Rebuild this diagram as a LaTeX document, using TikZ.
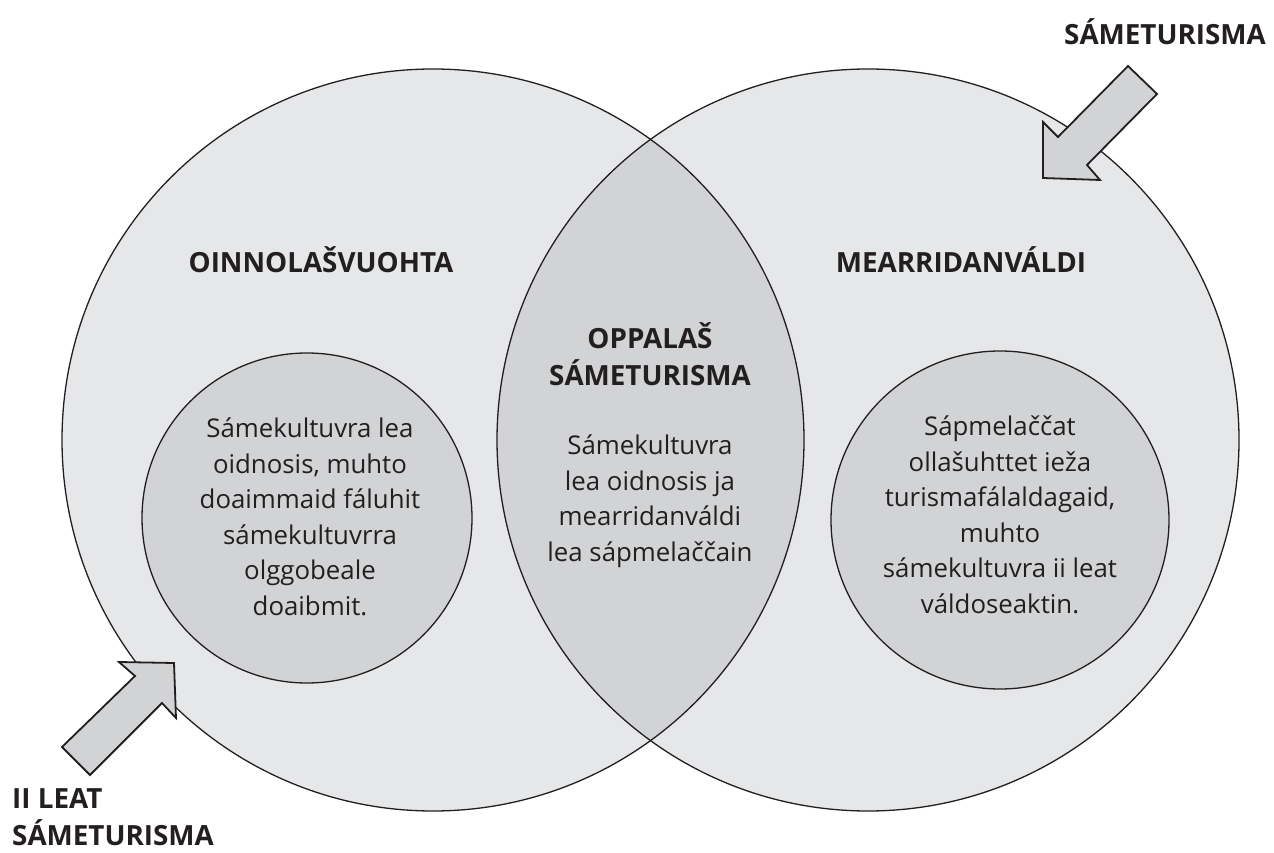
\documentclass[tikz,border=0pt]{standalone}
\usepackage{fontspec}
\setmainfont{Open Sans}
\definecolor{outergray}{HTML}{E6E7E8}
\definecolor{innergray}{HTML}{D1D3D4}
\definecolor{ink}{HTML}{231F20}
\begin{document}
\begin{tikzpicture}[x=1pt, y=1pt, text=ink,
	body/.style = {align=center, inner sep=0pt, font=\fontsize{25.8}{35.5}\selectfont},
	head/.style = {align=center, inner sep=0pt, font=\fontsize{27.8}{36.5}\selectfont\bfseries},
	inner/.style = {draw=ink, line width=1.3pt, fill=innergray, circle, inner sep=0pt},
	blockarrow/.style = {draw=ink, line width=1.8pt, fill=innergray, line join=miter}]
	\useasboundingbox (0,0) rectangle (1274,852);
	\fill[outergray] (433,412) circle (371);
	\fill[outergray] (868,412) circle (371);
	\begin{scope}
		\clip (433,412) circle (371);
		\fill[innergray] (868,412) circle (371);
	\end{scope}
	\draw[ink, line width=1.3pt] (433,412) circle (371);
	\draw[ink, line width=1.3pt] (868,412) circle (371);
	\node[inner, minimum size=330pt] (kultuvra) at (307,334) {};
	\node[inner, minimum size=338pt] (sapmi) at (1000,332) {};
	\node[body] (kultuvratxt) at (310,335) {Sámekultuvra lea\\oidnosis, muhto\\doaimmaid fáluhit\\sámekultuvrra\\olggobeale\\doaibmit.};
	\node[body] (sapmitxt) at (1000,337) {Sápmelaččat\\ollašuhttet ieža\\turismafálaldagaid,\\muhto\\sámekultuvra ii leat\\váldoseaktin.};
	\node[head] (oinnolas) at (321,592) {OINNOLAŠVUOHTA};
	\node[head] (mearridan) at (961,592) {MEARRIDANVÁLDI};
	\node[head] (oppalas) at (650,498) {OPPALAŠ\\SÁMETURISMA};
	\node[body] (oppalastxt) at (650,351) {Sámekultuvra\\lea oidnosis ja\\mearridanváldi\\lea sápmelaččain};
	\node[head] (sameturisma) at (1165,820) {SÁMETURISMA};
	\node[head, align=left, anchor=west] (iileat) at (12,35) {II LEAT\\SÁMETURISMA};
	\draw[blockarrow] (1043,674) -- (1043,730) -- (1058,715) -- (1128,786) -- (1157,758) -- (1087,687) -- (1100,672) -- cycle;
	\draw[blockarrow] (174,189) -- (119,190) -- (135,176) -- (62,105) -- (90,77) -- (162,149) -- (176,134) -- cycle;
\end{tikzpicture}
\end{document}
